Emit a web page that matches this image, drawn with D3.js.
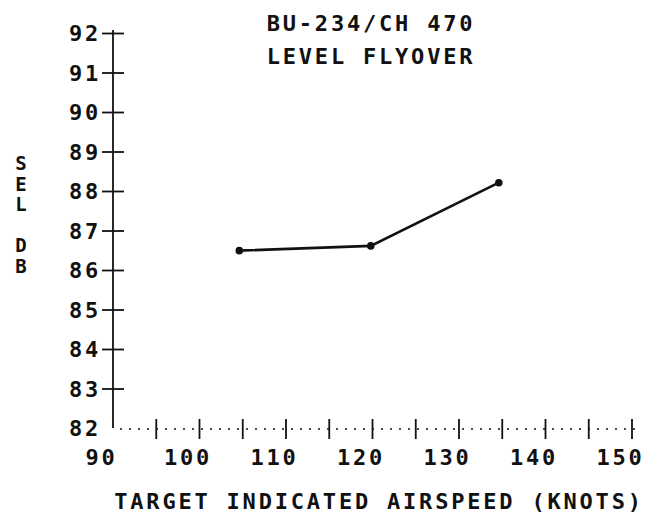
<!DOCTYPE html>
<html>
<head>
<meta charset="utf-8">
<script src="https://cdn.jsdelivr.net/npm/d3@7"></script>
<style>
  body { margin: 0; background: #fff; }
  svg text { font-family: "DejaVu Sans Mono", monospace; font-size: 22px; font-weight: bold; letter-spacing: 2.8px; fill: #111; }
</style>
</head>
<body>
<script>
// data
var speeds = [104.6, 119.8, 134.6];
var selDb = [86.49, 86.61, 88.21];

var yTicks = [82, 83, 84, 85, 86, 87, 88, 89, 90, 91, 92];
var xLabels = [90, 100, 110, 120, 130, 140, 150];
var xTicks = [95, 100, 105, 110, 115, 120, 125, 130, 135, 140, 145, 150];

var titleLines = ["BU-234/CH 470", "LEVEL FLYOVER"];
var xTitle = "TARGET INDICATED AIRSPEED (KNOTS)";
var yTitle = ["S", "E", "L", "", "D", "B"];

var width = 646, height = 515;

var x = d3.scaleLinear().domain([90, 150]).range([113, 632]);
var y = d3.scaleLinear().domain([82, 92]).range([428, 33]);

var svg = d3.select('body').append('svg')
    .attr('width', width)
    .attr('height', height);

// y axis with cross ticks
var yAxis = svg.append('g')
    .attr('transform', 'translate(113,0)')
    .call(d3.axisLeft(y).tickValues(yTicks).tickSizeOuter(0).tickFormat(d3.format('d')));

yAxis.select('.domain')
    .attr('stroke', '#111')
    .attr('stroke-width', 1.8)
    .attr('d', 'M0,' + (y(92) - 3) + 'V' + y(82));

yAxis.selectAll('.tick line')
    .attr('x1', -11)
    .attr('x2', 11)
    .attr('stroke', '#111')
    .attr('stroke-width', 1.8)
    .style('display', function(d) { return d === 82 ? 'none' : null; });

yAxis.selectAll('.tick text')
    .attr('x', -12)
    .attr('dy', '0.36em')
    .attr('font-size', null)
    .attr('font-family', null);

// x axis: dotted base line, cross ticks every 5 knots, labels every 10
var xAxis = svg.append('g')
    .attr('transform', 'translate(0,429)');

xAxis.append('line')
    .attr('x1', 120)
    .attr('x2', 640)
    .attr('stroke', '#111')
    .attr('stroke-width', 1.6)
    .attr('stroke-dasharray', '2,7');

xAxis.selectAll('.minor')
    .data(xTicks)
    .enter()
    .append('line')
    .attr('class', 'minor')
    .attr('x1', function(d) { return x(d); })
    .attr('x2', function(d) { return x(d); })
    .attr('y1', -10)
    .attr('y2', 10)
    .attr('stroke', '#111')
    .attr('stroke-width', 1.8);

var xLab = svg.append('g')
    .attr('transform', 'translate(0,429)')
    .call(d3.axisBottom(x).tickValues(xLabels).tickSize(0).tickFormat(d3.format('d')));

xLab.select('.domain').remove();
xLab.selectAll('.tick text')
    .attr('y', 36)
    .attr('dy', null)
    .attr('dx', -12)
    .attr('font-size', null)
    .attr('font-family', null);

// titles
svg.selectAll('.title')
    .data(titleLines)
    .enter()
    .append('text')
    .attr('class', 'title')
    .attr('x', 371)
    .attr('y', function(d, i) { return 31 + i * 33; })
    .attr('text-anchor', 'middle')
    .text(function(d) { return d; });

svg.append('text')
    .attr('x', 379)
    .attr('y', 509)
    .attr('text-anchor', 'middle')
    .text(xTitle);

svg.selectAll('.ytitle')
    .data(yTitle)
    .enter()
    .append('text')
    .attr('class', 'ytitle')
    .attr('x', 21)
    .attr('y', function(d, i) { return 170 + i * 20.5; })
    .attr('text-anchor', 'middle')
    .style('font-size', '19px')
    .style('letter-spacing', '0px')
    .text(function(d) { return d; });

// the series
var pts = speeds.map(function(s, i) { return [s, selDb[i]]; });

var line = d3.line()
    .x(function(d) { return x(d[0]); })
    .y(function(d) { return y(d[1]); });

svg.append('path')
    .datum(pts)
    .attr('d', line)
    .attr('fill', 'none')
    .attr('stroke', '#111')
    .attr('stroke-width', 2.6);

svg.selectAll('.pt')
    .data(pts)
    .enter()
    .append('circle')
    .attr('class', 'pt')
    .attr('cx', function(d) { return x(d[0]); })
    .attr('cy', function(d) { return y(d[1]); })
    .attr('r', 3.8)
    .attr('fill', '#111');
</script>
</body>
</html>
